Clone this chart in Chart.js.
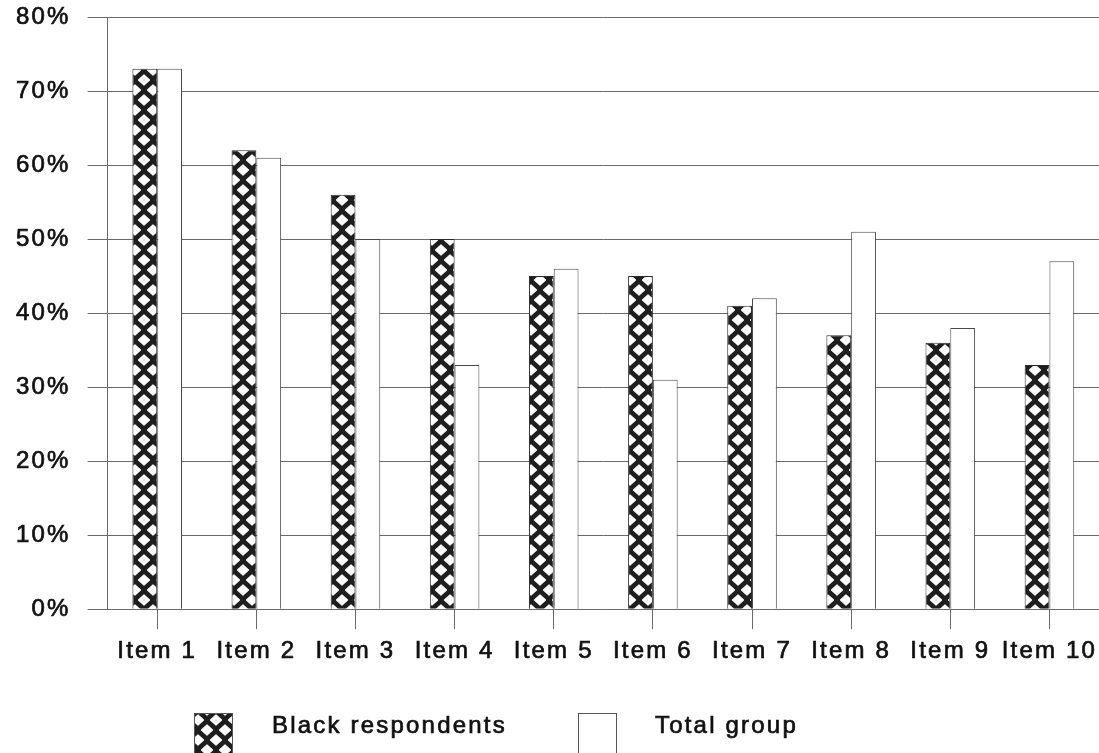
<!DOCTYPE html>
<html>
<head>
<meta charset="utf-8">
<script src="https://cdn.jsdelivr.net/npm/chart.js@4.4.0/dist/chart.umd.min.js"></script>
<style>
    html, body { margin: 0; padding: 0; background: #fff; }
    canvas { display: block; }
</style>
</head>
<body>
<canvas id="chart" width="1099" height="753"></canvas>
<script>
const items = ["Item 1", "Item 2", "Item 3", "Item 4", "Item 5", "Item 6", "Item 7", "Item 8", "Item 9", "Item 10"];
const blackRespondents = [73, 62, 56, 50, 45, 45, 41, 37, 36, 33];
const totalGroup = [73, 61, 50, 33, 46, 31, 42, 51, 38, 47];
const seriesNames = ["Black respondents", "Total group"];
const yMax = 80;
const yStep = 10;

const inkColor = "#111";
const lineColor = "#6a6a6a";
const fontFamily = "'Liberation Sans', Arial, sans-serif";
const letterGap = "2.2px";

Chart.defaults.font.family = fontFamily;
Chart.defaults.font.size = 24;
Chart.defaults.color = inkColor;

// black lattice with rounded diamond holes
function makeHatch(ctx) {
    let tile = document.createElement("canvas");
    tile.width = 18;
    tile.height = 20;
    let g = tile.getContext("2d");
    g.fillStyle = "#1e1e1e";
    g.fillRect(0, 0, 18, 20);
    g.fillStyle = "#fff";
    g.strokeStyle = "#fff";
    g.lineJoin = "round";
    g.lineWidth = 1.2;
    [[0, 0], [18, 0], [0, 20], [18, 20], [9, 10]].forEach(function (p) {
        g.beginPath();
        g.moveTo(p[0] - 5.5, p[1]);
        g.lineTo(p[0], p[1] - 5);
        g.lineTo(p[0] + 5.5, p[1]);
        g.lineTo(p[0], p[1] + 5);
        g.closePath();
        g.fill();
        g.stroke();
    });
    return ctx.createPattern(tile, "repeat");
}

const spacing = {
    id: "spacing",
    beforeLayout(chart) { chart.ctx.letterSpacing = letterGap; },
    beforeDraw(chart) { chart.ctx.letterSpacing = letterGap; }
};

const legendRow = {
    id: "legendRow",
    afterDraw(chart) {
        const ctx = chart.ctx;
        const boxes = [
            {x: 194, text: 272, fill: hatch},
            {x: 578, text: 655, fill: "#fff"}
        ];
        ctx.save();
        ctx.letterSpacing = letterGap;
        ctx.font = "24px " + fontFamily;
        ctx.textBaseline = "middle";
        boxes.forEach(function (b, i) {
            ctx.fillStyle = b.fill;
            ctx.fillRect(b.x, 713, 39, 42);
            ctx.strokeStyle = "#555";
            ctx.lineWidth = 1;
            ctx.strokeRect(b.x + 0.5, 713.5, 38, 42);
            ctx.fillStyle = inkColor;
            ctx.strokeStyle = inkColor;
            ctx.lineWidth = 0.7;
            ctx.fillText(seriesNames[i], b.text, 726);
            ctx.strokeText(seriesNames[i], b.text, 726);
        });
        ctx.restore();
    }
};

const canvas = document.getElementById("chart");
const hatch = makeHatch(canvas.getContext("2d"));

new Chart(canvas, {
    type: "bar",
    data: {
        labels: items,
        datasets: [
            {
                label: seriesNames[0],
                data: blackRespondents,
                backgroundColor: hatch,
                borderColor: "#2a2a2a",
                borderWidth: 1,
                categoryPercentage: 0.5,
                barPercentage: 1.0
            },
            {
                label: seriesNames[1],
                data: totalGroup,
                backgroundColor: "#fff",
                borderColor: "#4a4a4a",
                borderWidth: 1,
                categoryPercentage: 0.5,
                barPercentage: 1.0
            }
        ]
    },
    options: {
        responsive: false,
        animation: false,
        layout: {
            padding: {left: -1, right: -2, top: 17, bottom: 79}
        },
        plugins: {
            legend: {display: false},
            tooltip: {enabled: false}
        },
        scales: {
            x: {
                grid: {
                    display: true,
                    drawOnChartArea: false,
                    offset: false,
                    tickLength: 20,
                    color: lineColor
                },
                border: {color: lineColor},
                ticks: {
                    padding: 8,
                    maxRotation: 0,
                    autoSkip: false,
                    textStrokeColor: inkColor,
                    textStrokeWidth: 0.7
                },
                afterFit: function (scale) {
                    scale.paddingLeft = 0;
                    scale.paddingRight = 0;
                }
            },
            y: {
                min: 0,
                max: yMax,
                grid: {
                    color: lineColor,
                    tickLength: 20
                },
                border: {color: lineColor},
                ticks: {
                    stepSize: yStep,
                    padding: 17,
                    textStrokeColor: inkColor,
                    textStrokeWidth: 0.7,
                    callback: function (value) {
                        return value + "%";
                    }
                },
                afterFit: function (scale) {
                    scale.paddingTop = 0;
                    scale.paddingBottom = 0;
                }
            }
        }
    },
    plugins: [spacing, legendRow]
});
</script>
</body>
</html>
